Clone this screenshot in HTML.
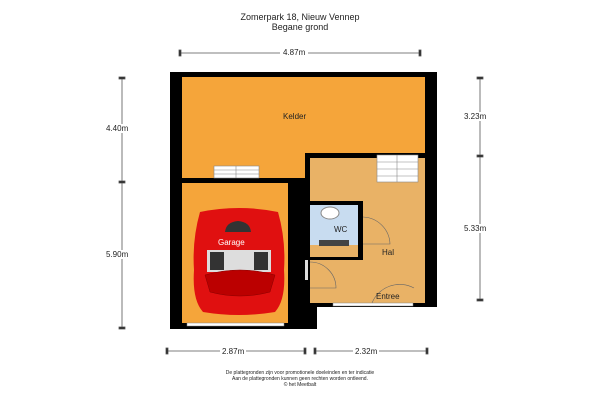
<!DOCTYPE html>
<html><head><style>
body{margin:0;background:#fff;width:600px;height:400px;overflow:hidden;font-family:"Liberation Sans",sans-serif}
.a{position:absolute}
.t{position:absolute;font-size:8px;color:#222;white-space:nowrap}
</style></head><body>
<div class="t" style="left:0;width:600px;top:12px;text-align:center;font-size:9px">Zomerpark 18, Nieuw Vennep<br>Begane grond</div>
<svg class="a" style="left:0;top:0" width="600" height="400">
<g stroke="#555" stroke-width="0.8" fill="#222">
<line x1="180" y1="53" x2="420" y2="53"/><rect x="179" y="50" width="2" height="6"/><rect x="419" y="50" width="2" height="6"/>
<line x1="122" y1="78" x2="122" y2="328"/><rect x="119" y="77" width="6" height="2"/><rect x="119" y="181" width="6" height="2"/><rect x="119" y="327" width="6" height="2"/>
<line x1="480" y1="78" x2="480" y2="300"/><rect x="477" y="77" width="6" height="2"/><rect x="477" y="155" width="6" height="2"/><rect x="477" y="299" width="6" height="2"/>
<line x1="167" y1="351" x2="305" y2="351"/><line x1="315" y1="351" x2="427" y2="351"/>
<rect x="166" y="348" width="2" height="6"/><rect x="304" y="348" width="2" height="6"/><rect x="314" y="348" width="2" height="6"/><rect x="426" y="348" width="2" height="6"/>
</g>
<!-- walls -->
<rect x="170" y="72" width="267" height="235" fill="#000"/>
<rect x="170" y="180" width="147" height="149" fill="#000"/>
<rect x="182" y="77" width="243" height="101" fill="#f5a53a"/>
<rect x="182" y="183" width="106" height="140" fill="#f5a53a"/>
<rect x="305" y="153" width="120" height="5" fill="#000"/>
<rect x="310" y="158" width="115" height="145" fill="#e9b266"/>
<rect x="288" y="153" width="17" height="25" fill="#f5a53a"/>
<rect x="305" y="153" width="5" height="25" fill="#000"/>
<!-- WC -->
<rect x="307" y="201" width="56" height="59" fill="#000"/>
<rect x="310" y="205" width="48" height="40" fill="#c8dcf0"/>
<rect x="310" y="245" width="48" height="12" fill="#e9b266"/>
<ellipse cx="330" cy="213" rx="9" ry="6" fill="#fff" stroke="#888"/>
<rect x="319" y="240" width="30" height="6" fill="#444"/>
<path d="M363 217 A28 28 0 0 1 390 244 L363 244" fill="none" stroke="#666" stroke-width="0.6"/>
<path d="M310 262 A26 26 0 0 1 336 288 L310 288" fill="none" stroke="#666" stroke-width="0.6"/>
<path d="M414 288 A 30 30 0 0 0 372 303" fill="none" stroke="#666" stroke-width="0.6"/>
<!-- windows -->
<rect x="187" y="323" width="97" height="3" fill="#fff" stroke="#888" stroke-width="0.5"/>
<rect x="333" y="303" width="80" height="3" fill="#fff" stroke="#888" stroke-width="0.5"/>
<rect x="305" y="260" width="3" height="20" fill="#ddd"/>
<!-- stairs -->
<g fill="#fff" stroke="#888" stroke-width="0.6">
<rect x="214" y="166" width="45" height="12"/><line x1="236" y1="166" x2="236" y2="178"/><line x1="214" y1="170" x2="259" y2="170"/><line x1="214" y1="174" x2="259" y2="174"/>
<rect x="377" y="155" width="41" height="27"/><line x1="397" y1="155" x2="397" y2="182"/><line x1="377" y1="162" x2="418" y2="162"/><line x1="377" y1="169" x2="418" y2="169"/><line x1="377" y1="176" x2="418" y2="176"/>
</g>
<!-- car -->
<path d="M200 212 Q239 204 278 212 Q286 240 284 270 Q286 300 275 312 Q239 318 203 312 Q192 300 194 270 Q192 240 200 212 Z" fill="#e01010"/>
<path d="M225 232 Q226 222 238 221 Q250 222 251 232 Z" fill="#333"/>
<rect x="207" y="250" width="64" height="22" fill="#ddd"/>
<rect x="210" y="252" width="14" height="18" fill="#333"/><rect x="254" y="252" width="14" height="18" fill="#333"/>
<path d="M205 275 Q240 265 275 275 L270 292 Q240 300 210 292 Z" fill="#b00" stroke="#800" stroke-width="0.5"/>
</svg>
<div class="t" style="left:283px;top:112px">Kelder</div>
<div class="t" style="left:334px;top:225px">WC</div>
<div class="t" style="left:382px;top:248px">Hal</div>
<div class="t" style="left:376px;top:292px">Entree</div>
<div class="t" style="left:218px;top:238px;color:#fff">Garage</div>
<div class="t" style="left:280px;top:48px;background:#fff;padding:0 3px">4.87m</div>
<div class="t" style="left:106px;top:124px;background:#fff">4.40m</div>
<div class="t" style="left:106px;top:250px;background:#fff">5.90m</div>
<div class="t" style="left:464px;top:112px;background:#fff">3.23m</div>
<div class="t" style="left:464px;top:224px;background:#fff">5.33m</div>
<div class="t" style="left:220px;top:347px;background:#fff;padding:0 2px">2.87m</div>
<div class="t" style="left:353px;top:347px;background:#fff;padding:0 2px">2.32m</div>
<div class="t" style="left:150px;width:300px;top:370px;text-align:center;font-size:5px;line-height:6px">De plattegronden zijn voor promotionele doeleinden en ter indicatie<br>Aan de plattegronden kunnen geen rechten worden ontleend.<br>© het Meetbalt</div>
</body></html>
